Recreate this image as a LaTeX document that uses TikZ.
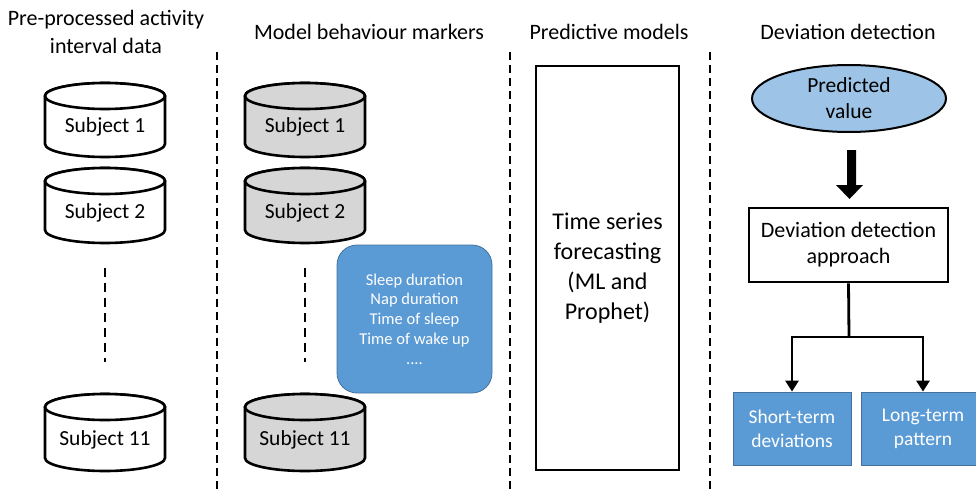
\documentclass[tikz,border=0pt]{standalone}
\usepackage{fontspec}
\setmainfont{Carlito}
\usetikzlibrary{arrows.meta,shapes.geometric}

\definecolor{boxblue}{HTML}{5B9BD5}
\definecolor{boxedge}{HTML}{41719C}
\definecolor{lightblue}{HTML}{9DC3E6}
\definecolor{drumgray}{HTML}{D6D6D6}

\tikzset{
  heading/.style={font=\fontsize{22}{28}\selectfont, align=center},
  divider/.style={line width=2pt, dash pattern=on 8pt off 5pt},
  gap/.style={line width=2pt, dash pattern=on 9pt off 6pt},
  drumtext/.style={font=\fontsize{21.5}{25}\selectfont},
  plainbox/.style={draw=black, line width=2.8pt, fill=white, align=center},
  bluebox/.style={draw=boxedge, line width=0.8pt, fill=boxblue, text=white, align=center},
  link/.style={line width=2.8pt, -{Triangle[length=11pt,width=13pt]}},
}

% cylinder: #1 name, #2 centre x, #3 top y, #4 bottom y, #5 fill, #6 label
\newcommand\drum[6]{%
  \path[draw=black, line width=2.6pt, fill=#5]
    (#2-60,#3+13) -- (#2-60,#4-13)
    arc[start angle=180, end angle=0, x radius=60, y radius=13]
    -- (#2+60,#3+13)
    arc[start angle=0, end angle=-180, x radius=60, y radius=13] -- cycle;
  \draw[line width=2.6pt, fill=#5] (#2,#3+13) ellipse[x radius=60, y radius=13];
  \node[drumtext] (#1) at (#2,{(#3+#4)/2+7}) {#6};
}

\begin{document}
\begin{tikzpicture}[x=1pt, y=-1pt]
\useasboundingbox (0,0) rectangle (976,492);

% column headings
\node[heading] (h1) at (106,32) {Pre-processed activity\\interval data};
\node[heading] (h2) at (369,32) {Model behaviour markers};
\node[heading] (h3) at (609,32) {Predictive models};
\node[heading] (h4) at (848,32) {Deviation detection};

% column dividers
\coordinate (d1t) at (217,52); \coordinate (d1b) at (217,492);
\coordinate (d2t) at (510,52); \coordinate (d2b) at (510,492);
\coordinate (d3t) at (710,52); \coordinate (d3b) at (710,492);
\draw[divider] (d1t) -- (d1b);
\draw[divider] (d2t) -- (d2b);
\draw[divider] (d3t) -- (d3b);

% raw data per subject
\drum{a1}{105}{83}{157}{white}{Subject 1}
\drum{a2}{105}{168}{243}{white}{Subject 2}
\drum{a11}{105}{394}{471}{white}{Subject 11}
\coordinate (ag1) at (105,268); \coordinate (ag2) at (105,362);
\draw[gap] (ag1) -- (ag2);

% behaviour markers per subject
\drum{b1}{305}{83}{157}{drumgray}{Subject 1}
\drum{b2}{305}{168}{243}{drumgray}{Subject 2}
\drum{b11}{305}{394}{471}{drumgray}{Subject 11}
\coordinate (bg1) at (305,268); \coordinate (bg2) at (305,362);
\draw[gap] (bg1) -- (bg2);

\node[bluebox, rounded corners=20pt, minimum width=155pt, minimum height=148pt,
      font=\fontsize{16.5}{19.8}\selectfont] (markers) at (414.5,319)
  {Sleep duration\\Nap duration\\Time of sleep\\Time of wake up\\....};

% forecasting
\node[plainbox, minimum width=143pt, minimum height=404pt,
      font=\fontsize{24}{30}\selectfont] (forecast) at (607.5,268)
  {Time series\\forecasting\\(ML and\\Prophet)};

% deviation detection
\node[draw=black, line width=2pt, fill=lightblue, ellipse,
      minimum width=194pt, minimum height=67pt, inner sep=0pt,
      font=\fontsize{21.5}{26}\selectfont, align=center] (pred) at (849,98.5)
  {Predicted\\value};

\node[plainbox, minimum width=199pt, minimum height=74pt,
      font=\fontsize{22}{26}\selectfont] (approach) at (848.5,245)
  {Deviation detection\\approach};

% block arrow between predicted value and approach
\fill[black] (847,150) -- (856,150) -- (856,185) -- (863,185)
  -- (849.5,199) -- (836,185) -- (847,185) -- cycle;

\node[bluebox, minimum width=118pt, minimum height=73pt,
      font=\fontsize{19.5}{24}\selectfont] (short) at (792,428.5)
  {Short-term\\deviations};
\node[bluebox, minimum width=124pt, minimum height=73pt,
      font=\fontsize{19.5}{24}\selectfont] (long) at (923,428.5)
  {Long-term\\pattern};

\coordinate (split) at (849,337);
\draw[line width=2.8pt] (approach.south) -- (split);
\draw[link] (split) -| (short.north);
\draw[link] (split) -| (long.north);
\end{tikzpicture}
\end{document}
